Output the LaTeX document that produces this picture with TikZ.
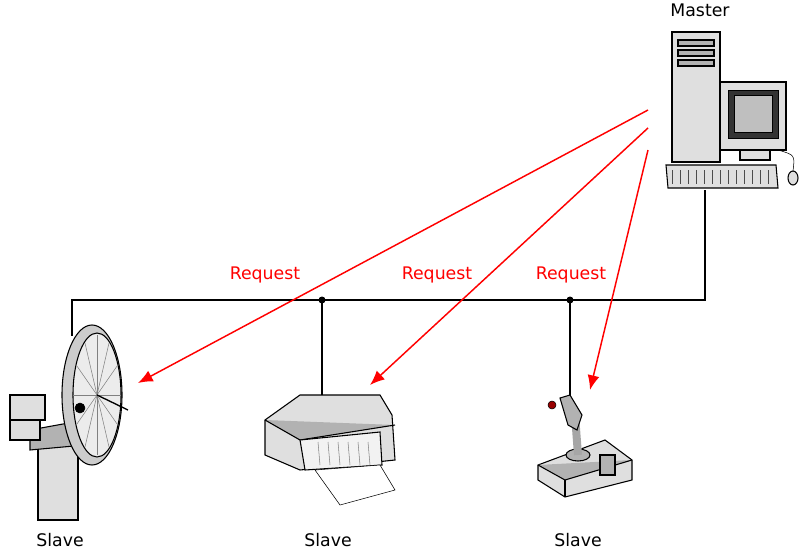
\documentclass[tikz,border=0pt]{standalone}
\usepackage{fontspec}
\setmainfont{DejaVu Sans}
\usetikzlibrary{arrows.meta}
\begin{document}
\begin{tikzpicture}[x=0.75pt,y=-0.75pt,
  lbl/.style={font=\fontsize{13}{15}\selectfont},
  req/.style={lbl,text=red},
  bus/.style={black,line width=1.2pt},
  reqline/.style={red,line width=1.1pt,-{Latex[length=11pt,width=9pt]}},
  part/.style={draw=black,fill=gray!25,line width=0.8pt},
  dark/.style={draw=black,fill=gray!60,line width=0.8pt}]
\useasboundingbox (0,0) rectangle (800,550);
% Master computer
\node[lbl] (mastert) at (700,10) {Master};
\draw[part] (672,32) rectangle (720,162);
\foreach \y in {40,50,60} \draw[dark] (678,\y) rectangle (714,\y+6);
\draw[part] (720,82) rectangle (786,150);
\draw[fill=black!80] (728,90) rectangle (778,138);
\draw[fill=gray!50] (734,95) rectangle (772,132);
\draw[part] (740,150) rectangle (770,160);
\draw[part] (666,165) -- (776,165) -- (778,188) -- (668,188) -- cycle;
\foreach \x in {672,680,...,770} \draw[black!70] (\x,170) -- (\x,184);
\draw[part] (793,178) ellipse (5 and 7);
\draw[black] (778,150) .. controls (795,155) .. (793,171);
\coordinate (m1) at (648,110);
\coordinate (m2) at (648,128);
\coordinate (m3) at (648,150);
\coordinate (mb) at (705,190);
% bus
\coordinate (c1) at (705,300);
\coordinate (c2) at (72,300);
\coordinate (a1) at (72,336);
\coordinate (j1) at (322,300);
\coordinate (j2) at (570,300);
\coordinate (p1) at (322,395);
\coordinate (k1) at (570,395);
\draw[bus] (mb) -- (c1) -- (c2) -- (a1);
\draw[bus] (j1) -- (p1);
\draw[bus] (j2) -- (k1);
\fill (j1) circle (3.5);
\fill (j2) circle (3.5);
% antenna
\draw[part] (38,440) rectangle (78,520);
\draw[dark] (30,430) -- (85,420) -- (85,445) -- (30,450) -- cycle;
\draw[part] (10,395) rectangle (45,420);
\draw[part] (10,420) rectangle (40,440);
\draw[part,fill=gray!40] (92,395) ellipse (30 and 70);
\draw[part,fill=gray!15] (97,395) ellipse (24 and 62);
\foreach \a in {0,30,...,330} \draw[gray] (97,395) -- ++(\a:24 and 60);
\draw[black,line width=1pt] (97,395) -- (128,410);
\draw[fill=black] (80,408) circle (5);
% printer
\draw[part] (265,420) -- (300,395) -- (380,395) -- (392,415) -- (395,460) -- (300,470) -- (265,455) -- cycle;
\draw[dark] (265,420) -- (300,440) -- (395,425);
\draw[part,fill=gray!10] (300,440) -- (380,432) -- (382,465) -- (305,470) -- cycle;
\draw[fill=white,draw=black] (315,470) -- (380,465) -- (395,490) -- (340,505) -- cycle;
\foreach \x in {318,328,...,372} \draw[gray] (\x,442) -- (\x+2,465);
% joystick
\draw[part] (538,465) -- (605,440) -- (632,460) -- (632,480) -- (565,497) -- (538,480) -- cycle;
\draw[dark] (538,465) -- (565,480) -- (632,460);
\draw[part] (565,480) -- (565,497);
\draw[dark] (578,455) ellipse (12 and 6);
\draw[line width=6pt,gray!70] (578,455) -- (575,415);
\draw[dark] (560,398) -- (570,395) -- (582,415) -- (577,430) -- (568,425) -- cycle;
\draw[fill=red!60!black] (552,405) circle (4);
\draw[dark] (600,455) rectangle (615,475);
% requests
\draw[reqline] (m1) -- (138,383);
\draw[reqline] (m2) -- (370,385);
\draw[reqline] (m3) -- (590,390);
\node[req] (r1) at (265,275) {Request};
\node[req] (r2) at (437,275) {Request};
\node[req] (r3) at (571,275) {Request};
\node[lbl] (s1) at (60,540) {Slave};
\node[lbl] (s2) at (328,540) {Slave};
\node[lbl] (s3) at (578,540) {Slave};
\end{tikzpicture}
\end{document}
